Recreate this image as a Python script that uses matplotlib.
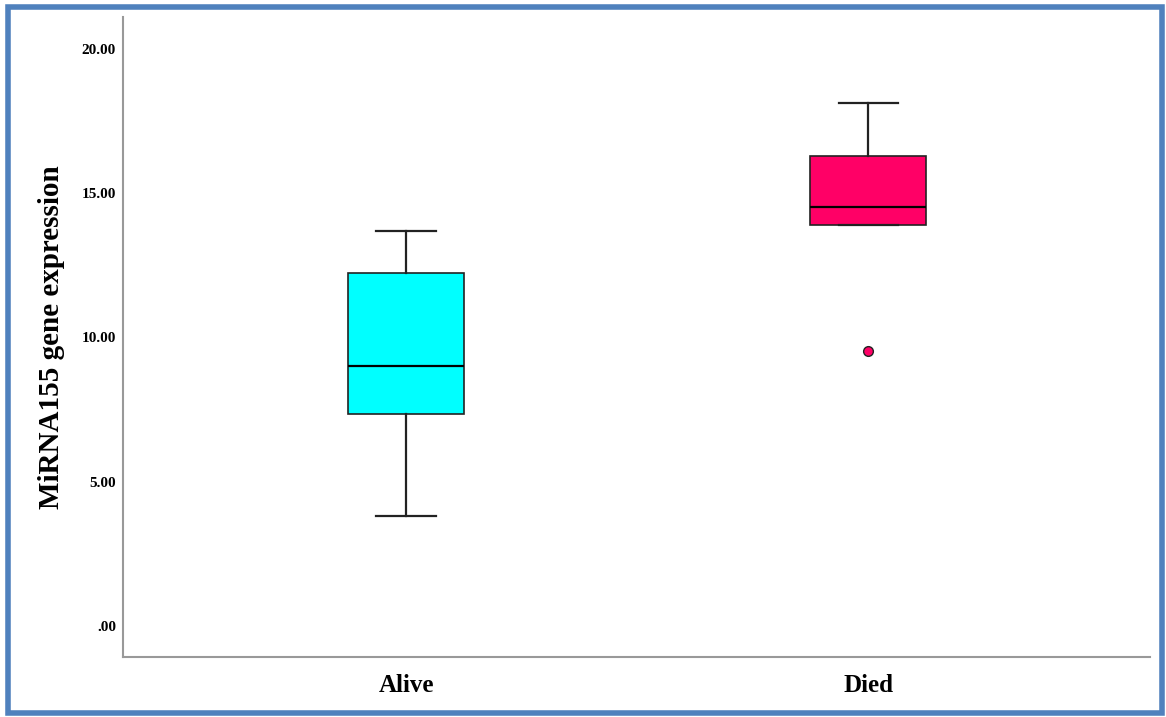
import matplotlib
matplotlib.use("Agg")
import matplotlib.pyplot as plt
from matplotlib.patches import Rectangle

# Box plot summary for miRNA-155 expression by outcome
groups = ["Alive", "Died"]
whisker_low = [3.81, 13.90]
q1 = [7.35, 13.90]
median = [9.01, 14.52]
q3 = [12.24, 16.29]
whisker_high = [13.69, 18.13]
outliers = [[], [9.53]]
box_colors = ["#00FFFF", "#FF0066"]
yticks = [0, 5, 10, 15, 20]
ytick_labels = [".00", "5.00", "10.00", "15.00", "20.00"]

plt.rcParams["font.family"] = ["Liberation Serif", "DejaVu Serif"]

fig = plt.figure(figsize=(11.66, 7.17), dpi=100)
ax = fig.add_axes([123 / 1166, 60 / 717, (1150 - 123) / 1166, (657 - 17) / 717])

stats = []
for i, g in enumerate(groups):
    stats.append(dict(label=g, whislo=whisker_low[i], q1=q1[i], med=median[i],
                      q3=q3[i], whishi=whisker_high[i], fliers=outliers[i]))

res = ax.bxp(stats, positions=range(len(groups)), widths=0.252, patch_artist=True,
             showfliers=True,
             medianprops=dict(color="black", linewidth=1.6),
             whiskerprops=dict(color="#222222", linewidth=1.6),
             capprops=dict(color="#222222", linewidth=1.6),
             boxprops=dict(edgecolor="#222222", linewidth=1.2),
             capwidths=0.128)
for patch, c in zip(res["boxes"], box_colors):
    patch.set_facecolor(c)
for fl, c in zip(res["fliers"], box_colors):
    fl.set_marker("o")
    fl.set_markerfacecolor(c)
    fl.set_markeredgecolor("#222222")
    fl.set_markersize(7)
    fl.set_markeredgewidth(1)

ax.set_xlim(-0.6126, 1.61)
ax.set_ylim(-1.07, 21.1)
ax.set_yticks(yticks)
ax.set_yticklabels(ytick_labels, fontsize=11, fontweight="bold")
ax.set_xticks(range(len(groups)))
ax.set_xticklabels(groups, fontsize=18, fontweight="bold")
ax.tick_params(axis="both", length=0)
ax.tick_params(axis="y", pad=5)
ax.tick_params(axis="x", pad=12)
ax.set_ylabel("MiRNA155 gene expression", fontsize=21, fontweight="bold", labelpad=12)

for side in ["top", "right"]:
    ax.spines[side].set_visible(False)
for side in ["left", "bottom"]:
    ax.spines[side].set_color("#999999")
    ax.spines[side].set_linewidth(1.5)

# Blue frame around the whole figure
fig.patches.append(Rectangle((7.5 / 1166, 4 / 717), (1162 - 7.5) / 1166, (710 - 4) / 717,
                             transform=fig.transFigure, fill=False,
                             edgecolor="#4F81BD", linewidth=4))

fig.savefig("out.png", dpi=100)
